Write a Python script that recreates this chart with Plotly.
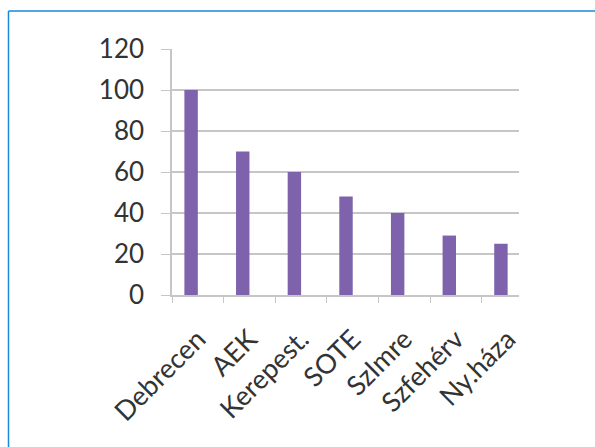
import plotly.graph_objects as go

categories = ["Debrecen", "AEK", "Kerepest.", "SOTE", "SzImre", "Szfehérv", "Ny.háza"]
values = [100, 70, 60, 48, 40, 29, 25]
y_ticks = [0, 20, 40, 60, 80, 100, 120]

W, H = 595, 447
L, R, T, B = 172, 76, 49, 152
pw, ph = W - L - R, H - T - B

fig = go.Figure()
fig.add_trace(go.Bar(
    x=categories, y=values,
    width=0.26, offset=-0.26,
    marker=dict(color="#7e63ac", line=dict(width=0)),
))

grid = "#c6c6c6"
fig.update_layout(
    width=W, height=H,
    margin=dict(l=L, r=R, t=T, b=B, pad=0),
    paper_bgcolor="white", plot_bgcolor="white",
    showlegend=False,
    font=dict(family="Lato", size=26, color="#333333"),
    xaxis=dict(
        type="category", range=[-0.5, 6.22],
        showgrid=False, showline=True, linecolor=grid, linewidth=1.5,
        ticks="outside", tickson="boundaries", ticklen=6, tickcolor=grid,
        tickangle=-45, tickfont=dict(size=27), ticklabelstandoff=16,
    ),
    yaxis=dict(
        range=[0, 120], tickvals=y_ticks,
        showgrid=True, gridcolor=grid, gridwidth=1.5,
        showline=True, linecolor=grid, linewidth=1.5,
        ticks="outside", ticklen=9, tickcolor=grid,
        ticklabelstandoff=12, zeroline=False,
    ),
    shapes=[
        dict(type="line", xref="paper", yref="paper",
             x0=(8.5 - L) / pw, x1=(8.5 - L) / pw,
             y0=1 + (T - 11) / ph, y1=-(B + 5) / ph,
             line=dict(color="#1a8ad6", width=1.5)),
        dict(type="line", xref="paper", yref="paper",
             x0=(8.5 - L) / pw, x1=(W + 5 - L) / pw,
             y0=1 + (T - 11) / ph, y1=1 + (T - 11) / ph,
             line=dict(color="#1a8ad6", width=1.5)),
    ],
)

fig.write_html("out.html")
